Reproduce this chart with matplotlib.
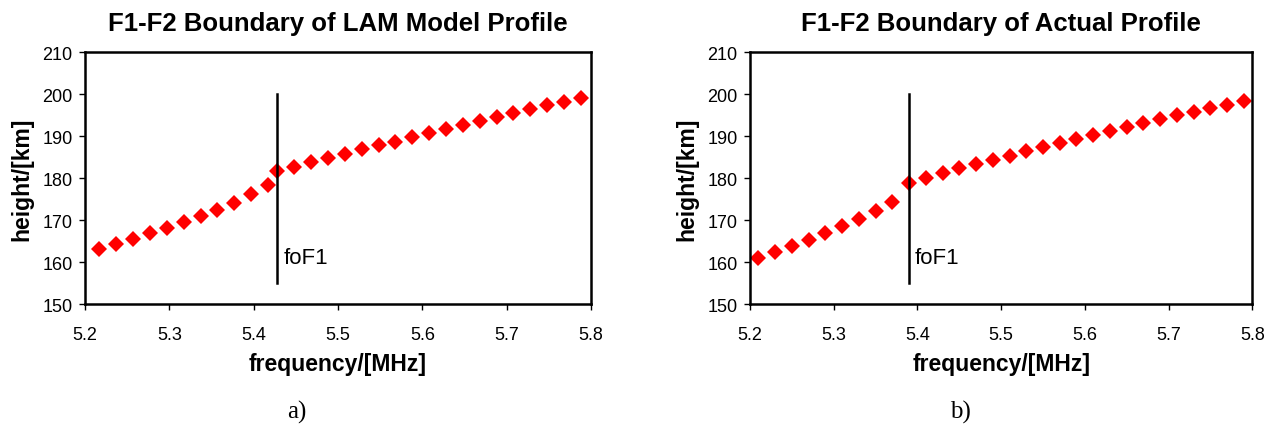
# F1-F2 boundary: LAM model profile vs actual profile
import matplotlib
matplotlib.use("Agg")
import matplotlib.pyplot as plt

plt.rcParams["font.family"] = ["Liberation Sans", "DejaVu Sans"]

# ── Data ──────────────────────────────────────────────────────
# a) LAM model profile
lam_freq = [5.217, 5.237, 5.257, 5.277, 5.297, 5.317, 5.337, 5.357, 5.377, 5.397,
            5.417, 5.428, 5.448, 5.468, 5.488, 5.508, 5.528, 5.548, 5.568, 5.588,
            5.608, 5.628, 5.648, 5.668, 5.688, 5.708, 5.728, 5.748, 5.768, 5.788]
lam_height = [163.0, 164.2, 165.4, 166.8, 168.0, 169.5, 170.9, 172.5, 174.0, 176.1,
              178.4, 181.7, 182.7, 183.8, 184.8, 185.8, 186.8, 187.8, 188.7, 189.8,
              190.8, 191.7, 192.6, 193.6, 194.5, 195.5, 196.4, 197.3, 198.1, 199.0]
lam_foF1 = 5.428

# b) actual profile
act_freq = [5.21, 5.23, 5.25, 5.27, 5.29, 5.31, 5.33, 5.35, 5.37, 5.39,
            5.41, 5.43, 5.45, 5.47, 5.49, 5.51, 5.53, 5.55, 5.57, 5.59,
            5.61, 5.63, 5.65, 5.67, 5.69, 5.71, 5.73, 5.75, 5.77, 5.79]
act_height = [160.9, 162.5, 163.8, 165.3, 166.8, 168.6, 170.2, 172.2, 174.3, 178.9,
              180.0, 181.1, 182.3, 183.3, 184.3, 185.3, 186.4, 187.4, 188.4, 189.4,
              190.3, 191.3, 192.2, 193.2, 194.0, 194.9, 195.8, 196.6, 197.5, 198.4]
act_foF1 = 5.39

foF1_range = [155, 200]   # extent of the foF1 marker line
x_ticks = [5.2, 5.3, 5.4, 5.5, 5.6, 5.7, 5.8]
x_ticklabels = ["5.2", "5.3", "5.4", "5.5", "5.6", "5.7", "5.8"]
y_ticks = [150, 160, 170, 180, 190, 200, 210]

panels = [
    ("F1-F2 Boundary of LAM Model Profile", lam_freq, lam_height, lam_foF1, "a)"),
    ("F1-F2 Boundary of Actual Profile", act_freq, act_height, act_foF1, "b)"),
]

# ── Charts ────────────────────────────────────────────────────
fig = plt.figure(figsize=(12.73, 4.27), dpi=100)
positions = [[0.0668, 0.2857, 0.3975, 0.590],
             [0.5892, 0.2857, 0.3945, 0.590]]

for pos, (title, freq, height, foF1, tag) in zip(positions, panels):
    ax = fig.add_axes(pos)
    ax.plot(freq, height, linestyle="none", marker="D", markersize=8.5,
            color="red", markeredgewidth=0)
    ax.plot([foF1, foF1], foF1_range, color="black", linewidth=1.8)
    ax.text(foF1 + 0.007, 161, "foF1", fontsize=16, va="center", ha="left")

    ax.set_xlim(5.2, 5.8)
    ax.set_ylim(150, 210)
    ax.set_xticks(x_ticks)
    ax.set_xticklabels(x_ticklabels)
    ax.set_yticks(y_ticks)
    ax.tick_params(direction="out", length=4, width=1, labelsize=13)
    ax.tick_params(axis="x", pad=12)
    ax.tick_params(axis="y", pad=5)
    for sp in ax.spines.values():
        sp.set_linewidth(1.8)

    ax.set_title(title, fontsize=18.5, fontweight="bold", pad=16)
    ax.set_xlabel("frequency/[MHz]", fontsize=16.5, fontweight="bold")
    ax.xaxis.set_label_coords(0.5, -0.19)
    ax.set_ylabel("height/[km]", fontsize=16.5, fontweight="bold")
    ax.yaxis.set_label_coords(-0.102, 0.5)

    cx = pos[0] + pos[2] / 2 - 0.032
    fig.text(cx, 0.035, tag, fontsize=18, family="Liberation Serif",
             ha="center", va="center")

fig.savefig("out.png", dpi=100)
